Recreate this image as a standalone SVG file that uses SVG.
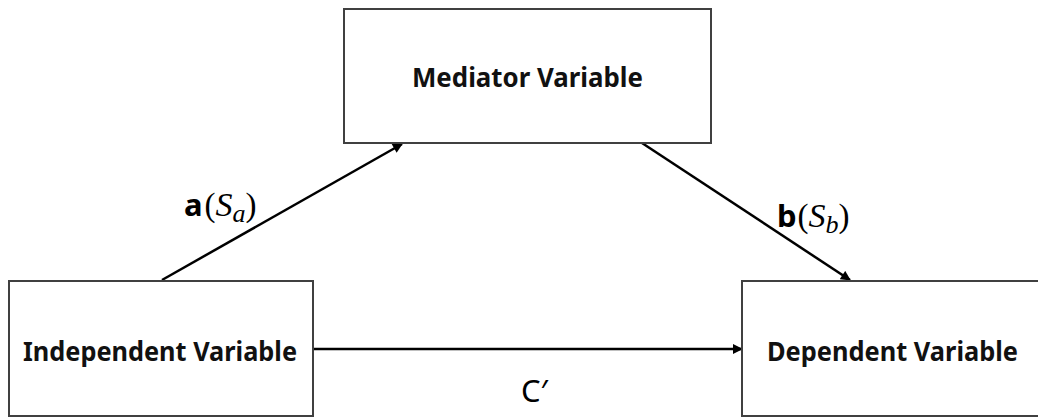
<svg xmlns="http://www.w3.org/2000/svg" width="1038" height="417" viewBox="0 0 1038 417">
  <defs>
    <style>
      .box { fill: #ffffff; stroke: #404040; stroke-width: 2; }
      .lbl { font-family: "Noto Sans", "Open Sans", "Liberation Sans", sans-serif; font-weight: bold; font-size: 27px; fill: #111111; }
      .conn { stroke: #000000; stroke-width: 2.5; fill: none; marker-end: url(#arrow); }
      .path { font-family: "Noto Sans", "Liberation Sans", sans-serif; font-size: 31px; fill: #000000; }
      .par { font-family: "Liberation Serif", "DejaVu Serif", serif; font-style: normal; font-weight: normal; font-size: 33px; }
      .math { font-family: "Liberation Serif", "DejaVu Serif", serif; font-style: italic; font-weight: normal; font-size: 34px; }
      .sub { font-family: "Liberation Serif", "DejaVu Serif", serif; font-style: italic; font-weight: normal; font-size: 26px; }
    </style>
    <marker id="arrow" viewBox="0 0 10 10" refX="9" refY="5" markerWidth="4.4" markerHeight="4" orient="auto" markerUnits="strokeWidth">
      <path d="M0,0 L10,5 L0,10 z" fill="#000000"/>
    </marker>
  </defs>
  <rect width="1038" height="417" fill="#ffffff"/>

  <g id="connectors">
    <line class="conn" x1="162" y1="280" x2="402" y2="144"/>
    <line class="conn" x1="642" y1="143" x2="850" y2="280"/>
    <line class="conn" x1="313" y1="349" x2="742" y2="349"/>
  </g>

  <g id="mediator">
    <rect class="box" x="344" y="9" width="367" height="134"/>
    <text class="lbl" x="527.5" y="87" text-anchor="middle" textLength="231" lengthAdjust="spacingAndGlyphs">Mediator  Variable</text>
  </g>

  <g id="independent">
    <rect class="box" x="9" y="281" width="304" height="135"/>
    <text class="lbl" x="160" y="361" text-anchor="middle" textLength="274" lengthAdjust="spacingAndGlyphs">Independent  Variable</text>
  </g>

  <g id="dependent">
    <rect class="box" x="742" y="281" width="302" height="135"/>
    <text class="lbl" x="892.5" y="361" text-anchor="middle" textLength="251" lengthAdjust="spacingAndGlyphs">Dependent  Variable</text>
  </g>

  <g id="labels">
    <text x="184" y="216" class="path"><tspan font-weight="bold">a</tspan><tspan class="par" dx="2">(</tspan><tspan class="math">S</tspan><tspan class="sub" dy="6">a</tspan><tspan class="par" dy="-6">)</tspan></text>
    <text x="777" y="227" class="path"><tspan font-weight="bold">b</tspan><tspan class="par" dx="1">(</tspan><tspan class="math">S</tspan><tspan class="sub" dy="6">b</tspan><tspan class="par" dy="-6">)</tspan></text>
    <text x="521" y="402" class="path" font-size="31">C′</text>
  </g>
</svg>
